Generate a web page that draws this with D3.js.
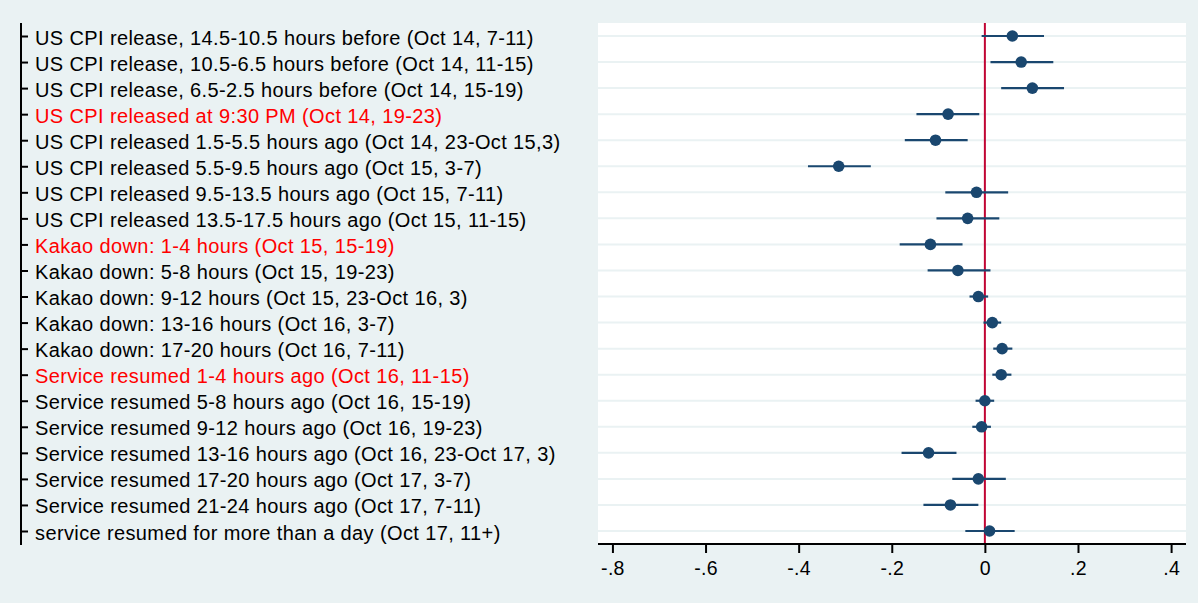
<!DOCTYPE html>
<html>
<head>
<meta charset="utf-8">
<script src="https://cdn.jsdelivr.net/npm/d3@7"></script>
<style>
  html, body { margin: 0; padding: 0; background: #eaf2f3; }
  svg { display: block; font-family: "Liberation Sans", Arial, sans-serif; }
</style>
</head>
<body>
<div id="chart"></div>
<script>
// row labels, top to bottom
const labels = [
  "US CPI release, 14.5-10.5 hours before (Oct 14, 7-11)",
  "US CPI release, 10.5-6.5 hours before (Oct 14, 11-15)",
  "US CPI release, 6.5-2.5 hours before (Oct 14, 15-19)",
  "US CPI released at 9:30 PM (Oct 14, 19-23)",
  "US CPI released 1.5-5.5 hours ago (Oct 14, 23-Oct 15,3)",
  "US CPI released 5.5-9.5 hours ago (Oct 15, 3-7)",
  "US CPI released 9.5-13.5 hours ago (Oct 15, 7-11)",
  "US CPI released 13.5-17.5 hours ago (Oct 15, 11-15)",
  "Kakao down: 1-4 hours (Oct 15, 15-19)",
  "Kakao down: 5-8 hours (Oct 15, 19-23)",
  "Kakao down: 9-12 hours (Oct 15, 23-Oct 16, 3)",
  "Kakao down: 13-16 hours (Oct 16, 3-7)",
  "Kakao down: 17-20 hours (Oct 16, 7-11)",
  "Service resumed 1-4 hours ago (Oct 16, 11-15)",
  "Service resumed 5-8 hours ago (Oct 16, 15-19)",
  "Service resumed 9-12 hours ago (Oct 16, 19-23)",
  "Service resumed 13-16 hours ago (Oct 16, 23-Oct 17, 3)",
  "Service resumed 17-20 hours ago (Oct 17, 3-7)",
  "Service resumed 21-24 hours ago (Oct 17, 7-11)",
  "service resumed for more than a day (Oct 17, 11+)"
];

// rows whose label is drawn in red (event markers)
const highlighted = [3, 8, 13];

// point estimates and confidence bounds
const estimate = [0.059, 0.078, 0.102, -0.079, -0.106, -0.314, -0.018, -0.037, -0.117, -0.058,
                  -0.014, 0.016, 0.037, 0.035, 0.000, -0.007, -0.121, -0.014, -0.074, 0.010];
const lower    = [-0.007, 0.012, 0.035, -0.147, -0.172, -0.380, -0.085, -0.104, -0.183, -0.123,
                  -0.033, -0.003, 0.018, 0.016, -0.020, -0.027, -0.179, -0.070, -0.132, -0.042];
const upper    = [0.127, 0.147, 0.170, -0.012, -0.037, -0.245, 0.050, 0.031, -0.048, 0.012,
                  0.007, 0.035, 0.059, 0.057, 0.020, 0.013, -0.061, 0.045, -0.014, 0.064];

const xTicks = [-0.8, -0.6, -0.4, -0.2, 0, 0.2, 0.4];

const rows = labels.map((label, i) => ({
  label, b: estimate[i], lo: lower[i], hi: upper[i]
}));

const width = 1198, height = 603;
const plot = { left: 598, right: 1186, top: 23, bottom: 544 };
const font = "'Liberation Sans', Arial, sans-serif";

const svg = d3.select("#chart").append("svg")
  .attr("width", width)
  .attr("height", height);

svg.append("rect")
  .attr("width", width).attr("height", height)
  .attr("fill", "#eaf2f3");

const x = d3.scaleLinear().domain([-0.831, 0.432]).range([plot.left, plot.right]);
const y = d3.scalePoint().domain(labels).range([36, 531]);

// white plot region
svg.append("rect")
  .attr("x", plot.left).attr("y", plot.top)
  .attr("width", plot.right - plot.left)
  .attr("height", plot.bottom - plot.top)
  .attr("fill", "#ffffff");

// gridlines at each row
svg.append("g")
  .selectAll("line")
  .data(labels)
  .enter()
  .append("line")
  .attr("x1", plot.left).attr("x2", plot.right)
  .attr("y1", d => y(d)).attr("y2", d => y(d))
  .attr("stroke", "#eaf2f3")
  .attr("stroke-width", 2);

// zero reference line
svg.append("line")
  .attr("x1", x(0)).attr("x2", x(0))
  .attr("y1", plot.top).attr("y2", plot.bottom)
  .attr("stroke", "#c10534")
  .attr("stroke-width", 2);

// confidence intervals
svg.append("g")
  .selectAll("line")
  .data(rows)
  .enter()
  .append("line")
  .attr("x1", d => x(d.lo)).attr("x2", d => x(d.hi))
  .attr("y1", d => y(d.label)).attr("y2", d => y(d.label))
  .attr("stroke", "#1a476f")
  .attr("stroke-width", 2.2);

// point estimates
svg.append("g")
  .selectAll("circle")
  .data(rows)
  .enter()
  .append("circle")
  .attr("cx", d => x(d.b))
  .attr("cy", d => y(d.label))
  .attr("r", 5.8)
  .attr("fill", "#1a476f");

// x axis, stata style ticks: "-.8", "0", ".2"
const fmt = d => d === 0 ? "0" : d.toFixed(1).replace("0.", ".");

const xAxis = svg.append("g")
  .attr("transform", `translate(0,${plot.bottom})`)
  .call(d3.axisBottom(x)
    .tickValues(xTicks)
    .tickSize(9)
    .tickPadding(8)
    .tickFormat(fmt));

xAxis.select(".domain")
  .attr("d", `M${plot.left},0H${plot.right}`)
  .attr("stroke", "#000")
  .attr("stroke-width", 2);
xAxis.selectAll(".tick line").attr("stroke", "#000").attr("stroke-width", 2);
xAxis.selectAll(".tick text")
  .attr("fill", "#000")
  .attr("font-size", "19.5px")
  .attr("letter-spacing", "0.3px")
  .attr("font-family", font);

// y axis on the far left, labels to its right
const yAxis = svg.append("g")
  .attr("transform", "translate(21,0)")
  .call(d3.axisRight(y).tickSize(7).tickPadding(7));

yAxis.select(".domain")
  .attr("d", `M0,${plot.top}V${plot.bottom + 1}`)
  .attr("stroke", "#000")
  .attr("stroke-width", 2);
yAxis.selectAll(".tick line").attr("stroke", "#000").attr("stroke-width", 2);
yAxis.selectAll(".tick text")
  .attr("dy", "0.4em")
  .attr("font-size", "20px")
  .attr("letter-spacing", "0.38px")
  .attr("font-family", font)
  .attr("fill", d => highlighted.includes(labels.indexOf(d)) ? "#ff0000" : "#000");
</script>
</body>
</html>
